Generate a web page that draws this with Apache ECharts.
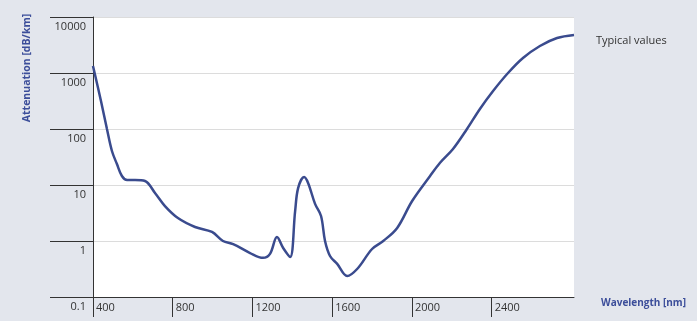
<!DOCTYPE html>
<html><head><meta charset="utf-8">
<script src="https://cdn.jsdelivr.net/npm/echarts@6/dist/echarts.min.js"></script>
<style>html,body{margin:0;padding:0;background:#e3e6ed}#c{width:697px;height:321px}</style>
</head><body><div id="c"></div>
<script>
const wavelengths = [400,440,470,495,520,545,571,611,661,711,761,826,912,997,1052,1103,1188,1253,1288,1323,1354,1389,1414,1429,1459,1479,1514,1544,1564,1589,1625,1675,1725,1800,1856,1926,2001,2091,2141,2206,2276,2341,2407,2482,2557,2642,2728,2813];
const attenuation = [1334,316,100,40.5,23.7,14.5,12.3,12.3,11.8,7.2,4.2,2.57,1.78,1.45,1.0,0.88,0.61,0.50,0.59,1.18,0.75,0.52,3.43,8.8,13.9,10.9,4.6,2.8,1.0,0.54,0.39,0.237,0.316,0.72,1.0,1.71,5.18,14.5,25,44,100,228,477,1000,1853,3035,4217,4786];
const xTicks = [400,800,1200,1600,2000,2400];
const yTicks = [0.1,1,10,100,1000,10000];

const chart = echarts.init(document.getElementById('c'));
const font = '"Open Sans", "Noto Sans", sans-serif';
chart.setOption({
  backgroundColor: '#e3e6ed',
  animation: false,
  grid: {left: 93, top: 17, width: 481, height: 280, show: true, backgroundColor: '#ffffff', borderWidth: 0},
  xAxis: {
    type: 'value', min: 400, max: 2813,
    axisLine: {show: true, lineStyle: {color: '#333', width: 1}},
    axisTick: {show: true, length: 20, lineStyle: {color: '#333'}, customValues: xTicks},
    axisLabel: {customValues: xTicks, align: 'left', margin: 5, padding: [0,0,0,3], fontSize: 11, color: '#333', fontFamily: font,
      formatter: v => String(v)},
    splitLine: {show: false}
  },
  yAxis: {
    type: 'log', min: 0.1, max: 10000, logBase: 10,
    axisLine: {show: true, lineStyle: {color: '#333', width: 1}},
    axisTick: {show: true, length: 43, lineStyle: {color: '#333'}},
    axisLabel: {margin: 7, verticalAlign: 'top', padding: [4,0,0,0], fontSize: 11, color: '#333', fontFamily: font,
      formatter: v => String(v)},
    splitLine: {show: true, lineStyle: {color: '#dcdcdc', width: 1}},
    minorTick: {show: false}, minorSplitLine: {show: false}
  },
  series: [{
    type: 'line', data: wavelengths.map((w, i) => [w, attenuation[i]]),
    smooth: 0.35, symbol: 'none', clip: false,
    lineStyle: {color: '#3a4b8e', width: 2.5}
  }],
  graphic: [
    {type: 'text', x: 27, y: 68, rotation: Math.PI / 2, style: {text: 'Attenuation [dB/km]', fill: '#3c4e9a', font: 'bold 10.5px ' + font, align: 'center', verticalAlign: 'middle'}},
    {type: 'text', x: 686, y: 303, style: {text: 'Wavelength [nm]', fill: '#3c4e9a', font: 'bold 10px ' + font, align: 'right', verticalAlign: 'middle'}},
    {type: 'text', x: 596, y: 41, style: {text: 'Typical values', fill: '#333', font: '11px ' + font, align: 'left', verticalAlign: 'middle'}}
  ]
});
</script></body></html>
